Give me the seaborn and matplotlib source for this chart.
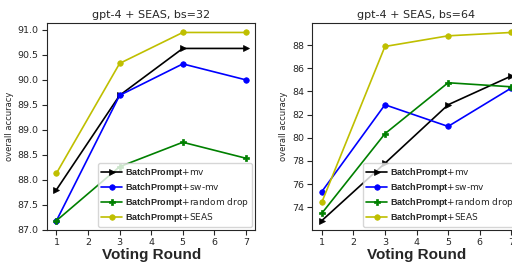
import seaborn as sns
import matplotlib.pyplot as plt
from matplotlib import font_manager

rounds = [1, 3, 5, 7]

# bs=32
mv_32 = [87.80, 89.69, 90.63, 90.63]
swmv_32 = [87.18, 89.69, 90.32, 90.00]
drop_32 = [87.18, 88.26, 88.75, 88.43]
seas_32 = [88.13, 90.33, 90.95, 90.95]

# bs=64
mv_64 = [72.85, 77.80, 82.85, 85.33]
swmv_64 = [75.35, 82.85, 80.98, 84.29]
drop_64 = [73.48, 80.35, 84.75, 84.40]
seas_64 = [74.43, 87.88, 88.80, 89.09]

labels = [r"$\mathbf{BatchPrompt}$+mv",
          r"$\mathbf{BatchPrompt}$+sw-mv",
          r"$\mathbf{BatchPrompt}$+random drop",
          r"$\mathbf{BatchPrompt}$+SEAS"]
colors = ["k", "b", "g", "y"]
markers = [">", "o", "P", "o"]
titles = ["gpt-4 + SEAS, bs=32", "gpt-4 + SEAS, bs=64"]

sns.set_style("ticks")
installed = {f.name for f in font_manager.fontManager.ttflist}
bf_font = "Liberation Sans Narrow" if "Liberation Sans Narrow" in installed else "Liberation Sans"
plt.rcParams["mathtext.fontset"] = "custom"
plt.rcParams["mathtext.bf"] = bf_font + ":bold"
plt.rcParams["mathtext.rm"] = "DejaVu Sans"

fig = plt.figure(figsize=(5.12, 2.62), dpi=100)
ax1 = fig.add_axes([0.0918, 0.122, 0.407, 0.790])
ax2 = fig.add_axes([0.610, 0.122, 0.407, 0.790])

panels = [(ax1, [mv_32, swmv_32, drop_32, seas_32]),
          (ax2, [mv_64, swmv_64, drop_64, seas_64])]

for (ax, series), title in zip(panels, titles):
    for vals, lab, c, m in zip(series, labels, colors, markers):
        sns.lineplot(x=rounds, y=vals, color=c, marker=m, markersize=4,
                     markeredgecolor=c, markeredgewidth=0.5, linewidth=1.2,
                     label=lab, ax=ax)
    ax.set_xlim(0.7, 7.3)
    ax.set_xticks(range(1, 8))
    ax.set_title(title, fontsize=8, pad=4)
    ax.set_xlabel("Voting Round", fontsize=11, fontweight="bold",
                  family="Liberation Sans", labelpad=0.5)
    ax.set_ylabel("overall accuracy", fontsize=6, labelpad=3)
    ax.tick_params(labelsize=6.8, length=3.5, pad=2.5)
    ax.legend(loc="lower right", fontsize=6.5, handlelength=2.3,
              borderaxespad=0.35, labelspacing=0.2, borderpad=0.35,
              handletextpad=0.35)

ax1.set_yticks([87.0, 87.5, 88.0, 88.5, 89.0, 89.5, 90.0, 90.5, 91.0])
ax1.yaxis.set_major_formatter(plt.FormatStrFormatter("%.1f"))

fig.savefig("out.png", dpi=100)
